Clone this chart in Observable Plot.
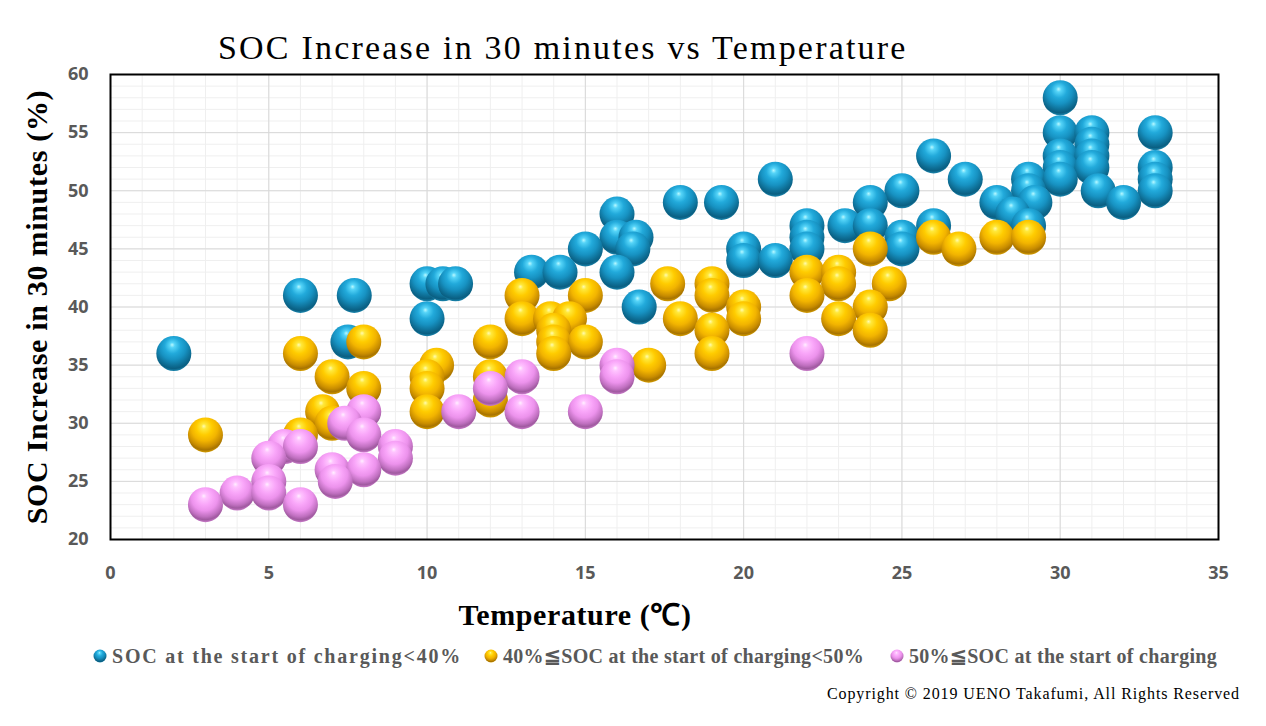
<!DOCTYPE html>
<html><head><meta charset="utf-8">
<script src="https://cdn.jsdelivr.net/npm/d3@7"></script>
<script src="https://cdn.jsdelivr.net/npm/@observablehq/plot@0.6"></script>
<style>
body{margin:0;background:#fff;}
#wrap{position:relative;width:1266px;height:726px;overflow:hidden;font-family:"Liberation Serif","Times New Roman",serif;background:#fff;}
.t{position:absolute;white-space:nowrap;line-height:1;}
#title{left:218px;top:31px;font-size:34px;letter-spacing:2.2px;color:#000;}
#ytitle{left:37px;top:307px;transform:translate(-50%,-50%) rotate(-90deg);font-size:30px;font-weight:bold;letter-spacing:0.7px;color:#000;}
#xtitle{left:575px;top:615px;transform:translate(-50%,-50%);font-size:30px;font-weight:bold;letter-spacing:0.6px;color:#000;}
.leg{position:absolute;top:646px;display:flex;align-items:center;white-space:nowrap;font-size:20px;font-weight:bold;color:#595959;line-height:20px;}
.leg svg{margin-right:5px;}
.leg span{display:inline-block;}
#copy{right:26px;top:686px;font-size:16px;letter-spacing:0.9px;color:#000;}
#plot{position:absolute;left:0;top:0;}
</style></head>
<body>
<svg width="0" height="0" style="position:absolute">
  <defs>
    <radialGradient id="gBlue" cx="0.5" cy="0.35" r="0.75" fx="0.45" fy="0.25">
      <stop offset="0" stop-color="#b8f8ff"/>
      <stop offset="0.1" stop-color="#55d4f8"/>
      <stop offset="0.3" stop-color="#22aadb"/>
      <stop offset="0.5" stop-color="#1792c2"/>
      <stop offset="0.7" stop-color="#0e6f96"/>
      <stop offset="0.8" stop-color="#0a5f82"/>
      <stop offset="0.88" stop-color="#1a85ad"/>
      <stop offset="1" stop-color="#1a85ad"/>
    </radialGradient>
    <radialGradient id="gYellow" cx="0.5" cy="0.35" r="0.75" fx="0.45" fy="0.25">
      <stop offset="0" stop-color="#fffbb0"/>
      <stop offset="0.1" stop-color="#ffe83a"/>
      <stop offset="0.3" stop-color="#ffcc00"/>
      <stop offset="0.5" stop-color="#f2b400"/>
      <stop offset="0.7" stop-color="#c98d00"/>
      <stop offset="0.8" stop-color="#a87400"/>
      <stop offset="0.88" stop-color="#d49c00"/>
      <stop offset="1" stop-color="#d49c00"/>
    </radialGradient>
    <radialGradient id="gPink" cx="0.5" cy="0.35" r="0.75" fx="0.45" fy="0.25">
      <stop offset="0" stop-color="#fff0ff"/>
      <stop offset="0.1" stop-color="#ffc4ff"/>
      <stop offset="0.3" stop-color="#f9a6f9"/>
      <stop offset="0.5" stop-color="#ec92ec"/>
      <stop offset="0.7" stop-color="#c070c0"/>
      <stop offset="0.8" stop-color="#a05aa0"/>
      <stop offset="0.88" stop-color="#c77ac7"/>
      <stop offset="1" stop-color="#c77ac7"/>
    </radialGradient>
  </defs>
</svg>
<div id="wrap">
  <div id="plot"></div>
  <div class="t" id="title">SOC Increase in 30 minutes vs Temperature</div>
  <div class="t" id="ytitle">SOC Increase in 30 minutes (%)</div>
  <div class="t" id="xtitle">Temperature (℃)</div>
  <div id="legend"></div>
  <div class="t" id="copy">Copyright © 2019 UENO Takafumi, All Rights Reserved</div>
</div>
<script>
// Tick values
const xTicks = [0, 5, 10, 15, 20, 25, 30, 35];
const yTicks = [20, 25, 30, 35, 40, 45, 50, 55, 60];

// Series names
const seriesNames = [
  "SOC at the start of charging<40%",
  "40%≦SOC at the start of charging<50%",
  "50%≦SOC at the start of charging"
];

// SOC at start < 40%
const lowTemp = [2,6,7.7,7.5,10,10.5,10.9,10,13.3,14.2,15,16,16,16.6,16.5,16,16.7,18,19.3,20,20,21,21,22,22,22,23.2,24,24,25,25,25,26,26,27,28,28.5,29,29,29.2,29,30,30,30,30,30,31,31,31,31,31.2,32,33,33,33,33];
const lowSOC  = [36,41,41,37,42,42,42,39,43,43,45,48,46,46,45,43,40,49,49,45,44,44,51,47,46,45,47,49,47,50,46,45,53,47,51,49,48,51,50,49,47,58,55,53,52,51,55,54,53,52,50,49,55,52,51,50];

// 40% <= SOC at start < 50%
const midTemp = [3,6,6,6.7,7,7,8,8,10.3,10,10,10,12,12,12,13,13,13.9,14.5,14,14,14,15,15,17,17.6,18,19,19,19,19,20,20,22,22,23,23,23,24,24.6,24,24,26,26.8,28,29];
const midSOC  = [29,36,29,31,34,30,37,33,35,34,33,31,37,34,32,41,39,39,39,38,37,36,41,37,35,42,39,42,41,38,36,40,39,43,41,43,42,39,45,42,40,38,46,45,46,46];

// 50% <= SOC at start
const highTemp = [3,4,5,5,5,5.5,6,6,7,7.1,7.4,8,8,8,9,9,11,12,13,13,15,16,16,22];
const highSOC  = [23,24,27,25,24,28,28,23,26,25,30,31,29,26,28,27,31,33,34,31,31,35,34,36];

const gradients = ["url(#gBlue)", "url(#gYellow)", "url(#gPink)"];

function rows(ts, ss) {
  return ts.map((t, i) => ({t, s: ss[i]})).sort((a, b) => b.s - a.s);
}
const lowRows = rows(lowTemp, lowSOC);
const midRows = rows(midTemp, midSOC);
const highRows = rows(highTemp, highSOC);

const minorX = d3.range(0, 36);
const minorY = d3.range(20, 61);

const plot = Plot.plot({
  width: 1266,
  height: 600,
  marginTop: 74,
  marginBottom: 61,
  marginLeft: 110,
  marginRight: 48,
  x: {domain: [0, 35], ticks: xTicks, tickSize: 0, tickPadding: 27, label: null},
  y: {domain: [20, 60], ticks: yTicks, tickSize: 0, tickPadding: 22, label: null},
  style: {fontFamily: "'Open Sans', sans-serif", fontSize: "18px", fontWeight: "700", color: "#595959", background: "white"},
  marks: [
    Plot.ruleX(minorX, {stroke: "#efefef", strokeWidth: 1}),
    Plot.ruleY(minorY, {stroke: "#efefef", strokeWidth: 1}),
    Plot.ruleX(xTicks, {stroke: "#d9d9d9", strokeWidth: 1}),
    Plot.ruleY(yTicks, {stroke: "#d9d9d9", strokeWidth: 1}),
    Plot.dot(lowRows, {x: "t", y: "s", r: 17.5, fill: gradients[0], stroke: "none"}),
    Plot.dot(midRows, {x: "t", y: "s", r: 17.5, fill: gradients[1], stroke: "none"}),
    Plot.dot(highRows, {x: "t", y: "s", r: 17.5, fill: gradients[2], stroke: "none"}),
    Plot.frame({stroke: "black", strokeWidth: 2})
  ]
});
document.getElementById("plot").appendChild(plot);

// Legend
const legendLeft = [93, 484, 890];
const legendTextWidth = [350, 361, 308];
const legend = document.getElementById("legend");
seriesNames.forEach((name, i) => {
  const item = document.createElement("div");
  item.className = "leg";
  item.style.left = legendLeft[i] + "px";
  item.innerHTML = `<svg width="14" height="14"><circle cx="7" cy="7" r="6.5" fill="${gradients[i]}"></circle></svg><span></span>`;
  const span = item.querySelector("span");
  span.textContent = name;
  legend.appendChild(item);
  const w = span.getBoundingClientRect().width;
  const ls = (legendTextWidth[i] - w) / name.length;
  span.style.letterSpacing = ls + "px";
});
</script>
</body></html>
